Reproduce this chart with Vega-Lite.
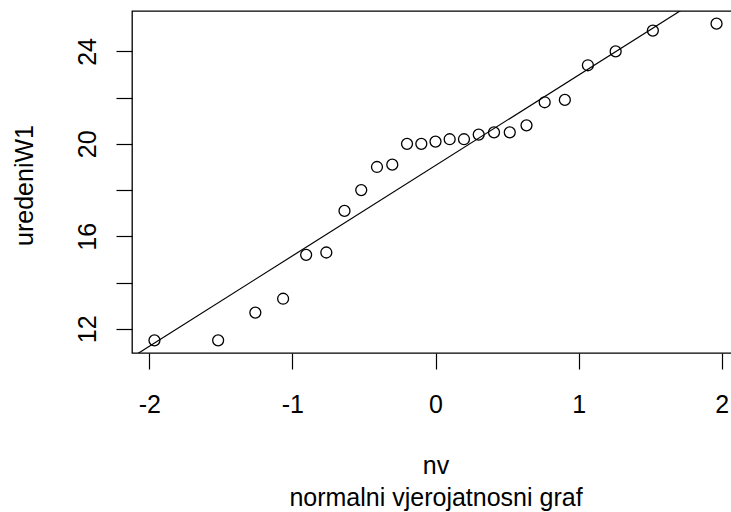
{
  "$schema": "https://vega.github.io/schema/vega-lite/v6.json",
  "width": 607,
  "height": 342,
  "autosize": "none",
  "padding": {"left": 132, "top": 11, "right": 0, "bottom": 159},
  "background": "white",
  "config": {
    "view": {"stroke": "black", "strokeWidth": 1.3},
    "font": "Liberation Sans"
  },
  "layer": [
    {
      "data": {
        "values": [
          {"nv": -1.964, "uredeniW1": 11.5},
          {"nv": -1.519, "uredeniW1": 11.5},
          {"nv": -1.259, "uredeniW1": 12.7},
          {"nv": -1.065, "uredeniW1": 13.3},
          {"nv": -0.904, "uredeniW1": 15.2},
          {"nv": -0.763, "uredeniW1": 15.3},
          {"nv": -0.636, "uredeniW1": 17.1},
          {"nv": -0.519, "uredeniW1": 18.0},
          {"nv": -0.409, "uredeniW1": 19.0},
          {"nv": -0.302, "uredeniW1": 19.1},
          {"nv": -0.199, "uredeniW1": 20.0},
          {"nv": -0.099, "uredeniW1": 20.0},
          {"nv": 0.0, "uredeniW1": 20.1},
          {"nv": 0.099, "uredeniW1": 20.2},
          {"nv": 0.199, "uredeniW1": 20.2},
          {"nv": 0.302, "uredeniW1": 20.4},
          {"nv": 0.409, "uredeniW1": 20.5},
          {"nv": 0.519, "uredeniW1": 20.5},
          {"nv": 0.636, "uredeniW1": 20.8},
          {"nv": 0.763, "uredeniW1": 21.8},
          {"nv": 0.904, "uredeniW1": 21.9},
          {"nv": 1.065, "uredeniW1": 23.4},
          {"nv": 1.259, "uredeniW1": 24.0},
          {"nv": 1.519, "uredeniW1": 24.9},
          {"nv": 1.964, "uredeniW1": 25.2}
        ]
      },
      "mark": {"type": "point", "filled": false, "color": "black", "size": 120, "strokeWidth": 1.3, "opacity": 1},
      "encoding": {
        "x": {
          "field": "nv",
          "type": "quantitative",
          "scale": {"domain": [-2.121, 2.121], "nice": false, "zero": false},
          "axis": {
            "values": [-2, -1, 0, 1, 2],
            "labelExpr": "'' + datum.value",
            "domain": false,
            "grid": false,
            "tickSize": 16,
            "tickColor": "black",
            "tickWidth": 1.2,
            "labelFontSize": 25,
            "labelColor": "black",
            "labelPadding": 43,
            "labelBaseline": "alphabetic",
            "labelFlush": false,
            "labelOverlap": false,
            "title": ["nv", "normalni vjerojatnosni graf"],
            "titleFontSize": 25,
            "titleFontWeight": "normal",
            "titleColor": "black",
            "titleBaseline": "alphabetic",
            "titleY": 120,
            "titleLineHeight": 32
          }
        },
        "y": {
          "field": "uredeniW1",
          "type": "quantitative",
          "scale": {"domain": [10.952, 25.748], "nice": false, "zero": false},
          "axis": {
            "values": [12, 14, 16, 18, 20, 22, 24],
            "labelExpr": "datum.value % 4 === 0 ? datum.label : ''",
            "domain": false,
            "grid": false,
            "tickSize": 16,
            "tickColor": "black",
            "tickWidth": 1.2,
            "labelFontSize": 25,
            "labelColor": "black",
            "labelAngle": 270,
            "labelAlign": "center",
            "labelBaseline": "alphabetic",
            "labelPadding": 21,
            "labelOverlap": false,
            "title": "uredeniW1",
            "titleFontSize": 25,
            "titleFontWeight": "normal",
            "titleColor": "black",
            "titleAngle": 270,
            "titleAlign": "center",
            "titleBaseline": "alphabetic",
            "titleX": -100,
            "titleY": 174
          }
        }
      }
    },
    {
      "data": {
        "values": [
          {"nv": -2.2, "uredeniW1": 10.46},
          {"nv": 2.2, "uredeniW1": 27.67}
        ]
      },
      "mark": {"type": "line", "color": "black", "strokeWidth": 1.2, "clip": true},
      "encoding": {
        "x": {"field": "nv", "type": "quantitative"},
        "y": {"field": "uredeniW1", "type": "quantitative"}
      }
    }
  ]
}
